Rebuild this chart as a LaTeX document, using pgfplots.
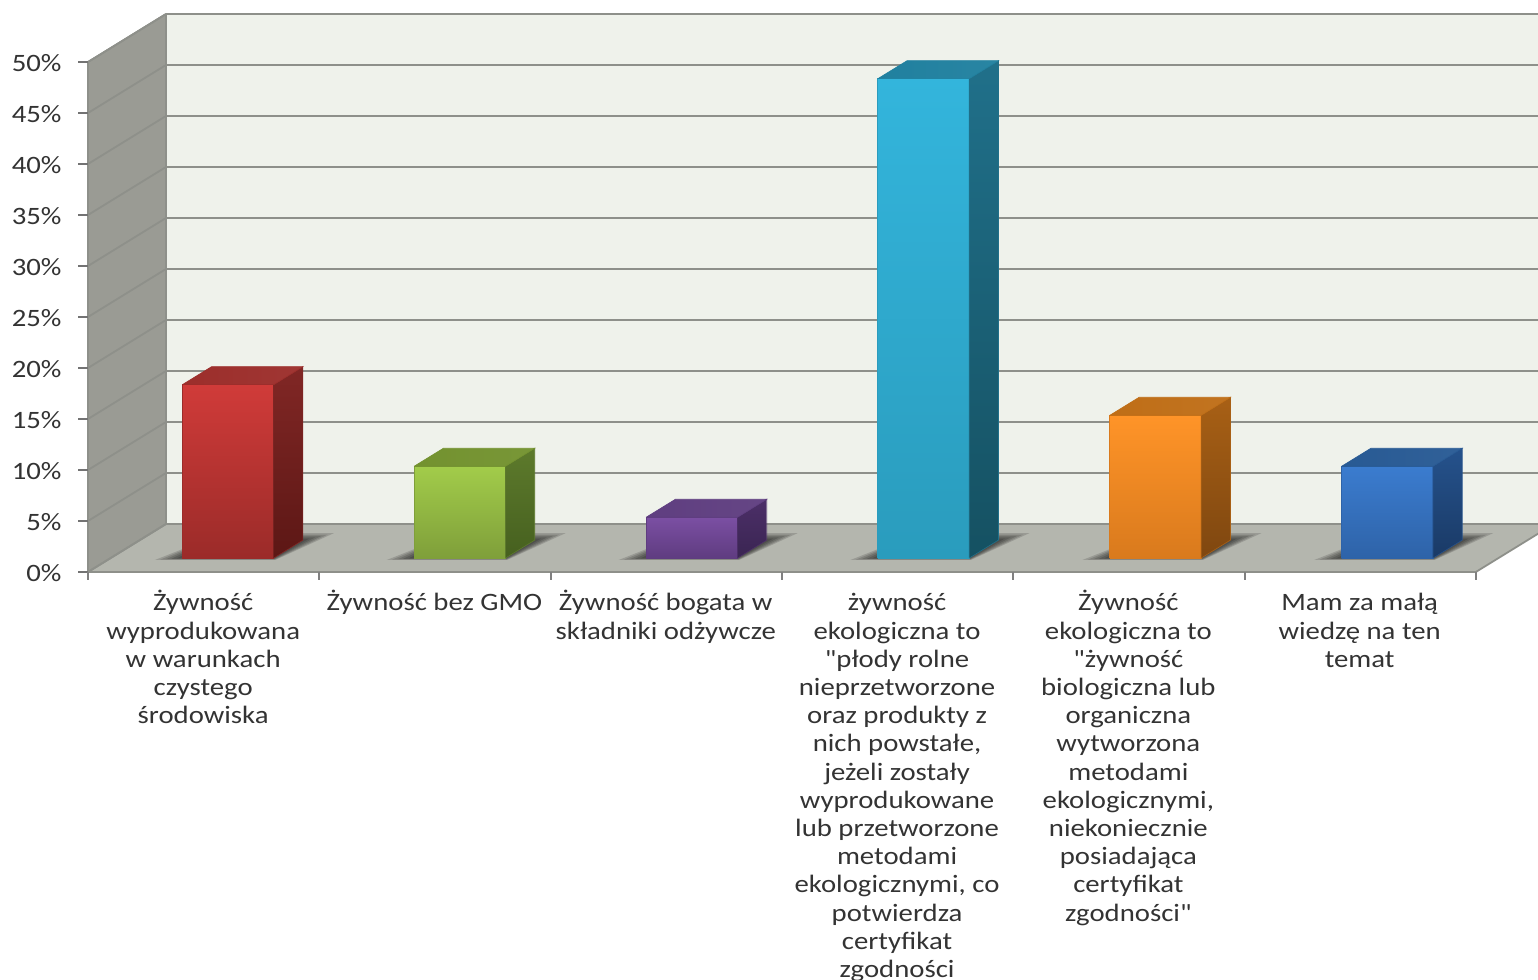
\documentclass[border=0pt]{standalone}
\usepackage{pgfplots}
\pgfplotsset{compat=1.18}
\usepackage{fontspec}
\setmainfont{Carlito}[FakeStretch=1.15,Ligatures=TeXOff]

\definecolor{wallback}{HTML}{EFF2EB}
\definecolor{wallleft}{HTML}{9A9B94}
\definecolor{wallfloor}{HTML}{B4B6AE}
\definecolor{gridc}{HTML}{8E908A}
\definecolor{labelc}{HTML}{333333}

\definecolor{redA}{HTML}{D03B39}\definecolor{redB}{HTML}{9B2B29}\definecolor{redC}{HTML}{812725}\definecolor{redD}{HTML}{5C1715}\definecolor{redE}{HTML}{9C2E2B}
\definecolor{greenA}{HTML}{A2CC4A}\definecolor{greenB}{HTML}{7F9F3A}\definecolor{greenC}{HTML}{5D7A2C}\definecolor{greenD}{HTML}{46601F}\definecolor{greenE}{HTML}{73922F}
\definecolor{purpleA}{HTML}{7B4FA3}\definecolor{purpleB}{HTML}{5F3C80}\definecolor{purpleC}{HTML}{4C2F68}\definecolor{purpleD}{HTML}{3A2552}\definecolor{purpleE}{HTML}{5F3E80}
\definecolor{tealA}{HTML}{33B5DC}\definecolor{tealB}{HTML}{2A9CBD}\definecolor{tealC}{HTML}{20708A}\definecolor{tealD}{HTML}{155162}\definecolor{tealE}{HTML}{20809F}
\definecolor{orangeA}{HTML}{FF9428}\definecolor{orangeB}{HTML}{D97A1D}\definecolor{orangeC}{HTML}{A86015}\definecolor{orangeD}{HTML}{7F4710}\definecolor{orangeE}{HTML}{BF6E17}
\definecolor{blueA}{HTML}{3B7CCF}\definecolor{blueB}{HTML}{2E63A8}\definecolor{blueC}{HTML}{25528C}\definecolor{blueD}{HTML}{1A3A66}\definecolor{blueE}{HTML}{285A94}

% one layer of the floor shadow: #1 left x, #2 right x, #3 spread 0..1
\newcommand{\softshadow}[3]{
  \pgfmathsetmacro\shL{#1-0.105*#3}\pgfmathsetmacro\shRa{#2+0.02*#3}\pgfmathsetmacro\shRb{#2+0.085*#3}
  \pgfmathsetmacro\shF{0.29-0.04*#3}\pgfmathsetmacro\shB{0.665+0.145*#3}
  \addplot3[draw=none,fill=black,opacity=0.15] coordinates {(\shL,\shF,0)(\shRa,\shF,0)(\shRb,\shB,0)(#1,\shB,0)(\shL,\shF,0)};
}
% shadow, then the three visible faces of a bar
% #1 left x, #2 right x, #3 value, #4 colour name
\newcommand{\cubebar}[4]{
  \softshadow{#1}{#2}{1}\softshadow{#1}{#2}{0.8}\softshadow{#1}{#2}{0.6}\softshadow{#1}{#2}{0.4}\softshadow{#1}{#2}{0.2}
  \addplot3[draw=#4B,line width=0.8pt,top color=#4A,bottom color=#4B] coordinates {(#1,0.29,0)(#2,0.29,0)(#2,0.29,#3)(#1,0.29,#3)(#1,0.29,0)};
  \addplot3[draw=#4C,line width=0.6pt,top color=#4C,bottom color=#4D] coordinates {(#2,0.29,0)(#2,0.665,0)(#2,0.665,#3)(#2,0.29,#3)(#2,0.29,0)};
  \addplot3[draw=#4E,line width=0.6pt,left color=#4E,right color=#4E!96!white] coordinates {(#1,0.29,#3)(#2,0.29,#3)(#2,0.665,#3)(#1,0.665,#3)(#1,0.29,#3)};
}

\begin{document}
\begin{tikzpicture}
\begin{axis}[
  set layers,
  at={(0pt,0pt)}, anchor=origin,
  x={(231.3pt,0pt)}, y={(78pt,48pt)}, z={(0pt,10.2pt)},
  xmin=0, xmax=6, ymin=0, ymax=1, zmin=0, zmax=50,
  clip=false,
  tick style={draw=none},
  ztick={0,5,...,50},
  zticklabel={\pgfmathprintnumber[assume math mode=true]{\tick}\%},
  ytick=\empty,
  xtick={0.5,1.5,2.5,3.5,4.5,5.5},
  xticklabels={
    {Żywność\\wyprodukowana\\w warunkach\\czystego\\środowiska},
    {Żywność bez GMO},
    {Żywność bogata w\\składniki odżywcze},
    {\vphantom{Ż}żywność\\ekologiczna to\\"płody rolne\\nieprzetworzone\\oraz produkty z\\nich powstałe,\\jeżeli zostały\\wyprodukowane\\lub przetworzone\\metodami\\ekologicznymi, co\\potwierdza\\certyfikat\\zgodności},
    {Żywność\\ekologiczna to\\"żywność\\biologiczna lub\\organiczna\\wytworzona\\metodami\\ekologicznymi,\\niekoniecznie\\posiadająca\\certyfikat\\zgodności"},
    {\vphantom{Ż}Mam za małą\\wiedzę na ten\\temat}
  },
  xticklabel style={align=center,anchor=north,xshift=-0.5pt,yshift=-15pt,font=\fontsize{25}{28.2}\selectfont,text=labelc},
  zticklabel style={anchor=east,xshift=-23pt,yshift=-1pt,font=\fontsize{25}{28.2}\selectfont,text=labelc},
  zmajorgrids=true,
  grid style={gridc,line width=1.8pt},
  axis line style={gridc,line width=1.8pt},
]
\addplot3[on layer=axis background,draw=none,fill=wallback] coordinates {(0,1,0)(6,1,0)(6,1,50)(0,1,50)(0,1,0)};
\addplot3[on layer=axis background,draw=none,fill=wallleft] coordinates {(0,0,0)(0,1,0)(0,1,50)(0,0,50)(0,0,0)};
\addplot3[on layer=axis background,draw=none,fill=wallfloor] coordinates {(0,0,0)(6,0,0)(6,1,0)(0,1,0)(0,0,0)};

\cubebar{0.31}{0.705}{17}{red}
\cubebar{1.312}{1.707}{9}{green}
\cubebar{2.315}{2.71}{4}{purple}
\cubebar{3.317}{3.712}{47}{teal}
\cubebar{4.32}{4.715}{14}{orange}
\cubebar{5.322}{5.717}{9}{blue}

% tick marks: level on the value axis, straight down on the category axis
\pgfplotsinvokeforeach{0,5,...,50}{
  \draw[black!55,line width=2.2pt] (axis cs:0,0,#1) -- ++(-10pt,0pt);
}
\pgfplotsinvokeforeach{0,1,...,6}{
  \draw[black!50,line width=2pt] (axis cs:#1,0,0) -- ++(0pt,-8pt);
}
\end{axis}
\pgfresetboundingbox
\path[use as bounding box] (-88pt,-407pt) rectangle (1450pt,572pt);
\end{tikzpicture}
\end{document}
